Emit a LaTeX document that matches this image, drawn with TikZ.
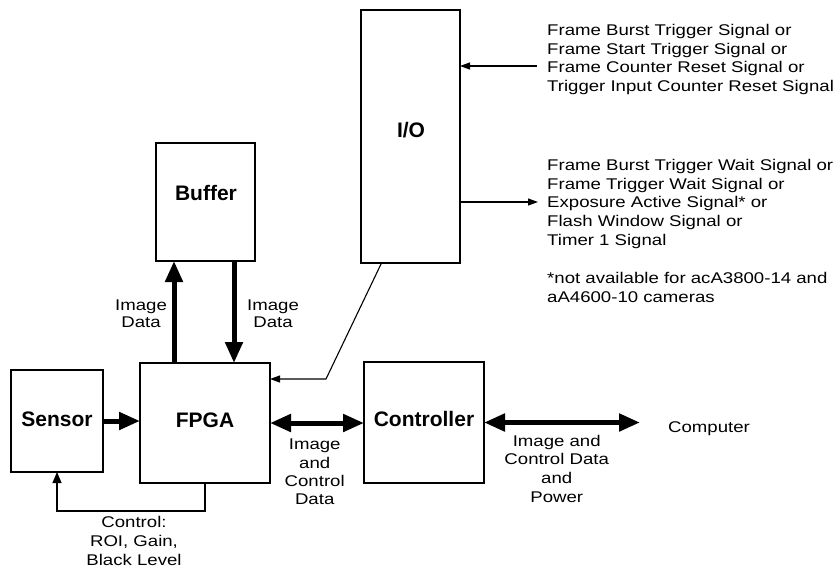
\documentclass[tikz,border=0pt]{standalone}
\usepackage{fontspec}
\setmainfont{Liberation Sans}
\newfontfamily\regfont{Liberation Sans}[FakeStretch=1.2]
\usetikzlibrary{arrows.meta}
\begin{document}
\begin{tikzpicture}[x=1pt,y=-1pt,
  box/.style={draw, line width=2.6pt, inner sep=0pt, outer sep=0pt},
  boldlbl/.style={font=\bfseries\fontsize{21}{25}\selectfont, inner sep=0pt, anchor=base},
  txt/.style={font=\regfont\fontsize{15.5}{#1}\selectfont, inner sep=0pt},
  txt/.default=18.7,
  bigarrow/.style={line width=5pt, -{Triangle[length=21pt,width=17pt]}},
  bigdouble/.style={line width=5pt, {Triangle[length=21pt,width=17pt]}-{Triangle[length=21pt,width=17pt]}},
  thinarrow/.style={line width=1.1pt, -{Triangle[length=10pt,width=7pt]}},
  fbarrow/.style={line width=1.1pt, -{Triangle[length=11pt,width=9pt]}},
]
\useasboundingbox (0,0) rectangle (835,571);

% boxes
\node[box, minimum width=92pt, minimum height=102pt] (sensor) at (57,421) {};
\node[box, minimum width=130pt, minimum height=120pt] (fpga) at (205,423) {};
\node[box, minimum width=99pt, minimum height=118pt] (buffer) at (205.5,202) {};
\node[box, minimum width=99pt, minimum height=253pt] (io) at (410.5,136.5) {};
\node[box, minimum width=120pt, minimum height=121pt] (ctrl) at (424,422.5) {};

% box titles
\node[boldlbl] (sensorT) at (57,426.5) {Sensor};
\node[boldlbl] (fpgaT) at (205,427) {FPGA};
\node[boldlbl] (bufferT) at (206,200) {Buffer};
\node[boldlbl] (ioT) at (411,137) {I/O};
\node[boldlbl] (ctrlT) at (424,426) {Controller};

% external text
\node[txt, anchor=base west] (computer) at (668,432) {Computer};
\node[txt, anchor=north west, align=left] (trigin) at (547,23.9)
  {Frame Burst Trigger Signal or\\Frame Start Trigger Signal or\\Frame Counter Reset Signal or\\Trigger Input Counter Reset Signal};
\node[txt, anchor=north west, align=left] (trigout) at (547,158.9)
  {Frame Burst Trigger Wait Signal or\\Frame Trigger Wait Signal or\\Exposure Active Signal* or\\Flash Window Signal or\\Timer 1 Signal};
\node[txt, anchor=north west, align=left] (note) at (547,272.2)
  {*not available for acA3800-14 and\\aA4600-10 cameras};

% connector labels
\node[txt=17, anchor=north, align=center] (imgL) at (141,299.6) {Image\\Data};
\node[txt=17, anchor=north, align=center] (imgR) at (273,299.6) {Image\\Data};
\node[txt=18.3, anchor=north, align=center] (fcLbl) at (314.7,438.9) {Image\\and\\Control\\Data};
\node[txt=18.7, anchor=north, align=center] (ccLbl) at (556.7,434.6) {Image and\\Control Data\\and\\Power};
\node[txt=19, anchor=north, align=center] (fbLbl) at (134,515.6) {Control:\\ROI, Gain,\\Black Level};

% thick connectors
\draw[bigarrow] (sensor.east) -- (sensor.east -| fpga.west);
\draw[bigdouble] (fpga.east) -- (fpga.east -| ctrl.west);
\draw[bigdouble, shorten >=28pt] (ctrl.east) -- (ctrl.east -| computer.west);
\coordinate (upx) at ([xshift=18pt]buffer.south west);
\coordinate (dnx) at ([xshift=-21pt]buffer.south east);
\draw[bigarrow] (upx |- fpga.north) -- (upx);
\draw[bigarrow] (dnx) -- (dnx |- fpga.north);

% thin connectors
\draw[fbarrow] (fpga.south) -- ++(0,28) -| (sensor.south);
\coordinate (iobot) at ([xshift=20.5pt]io.south west);
\coordinate (bend) at (326,379);
\draw[thinarrow] (iobot) -- (bend) -- (bend -| fpga.east);
\coordinate (insrc) at (537,66);
\coordinate (outdst) at (538,202);
\draw[thinarrow] (insrc) -- (insrc -| io.east);
\draw[thinarrow] (outdst -| io.east) -- (outdst);
\end{tikzpicture}
\end{document}
